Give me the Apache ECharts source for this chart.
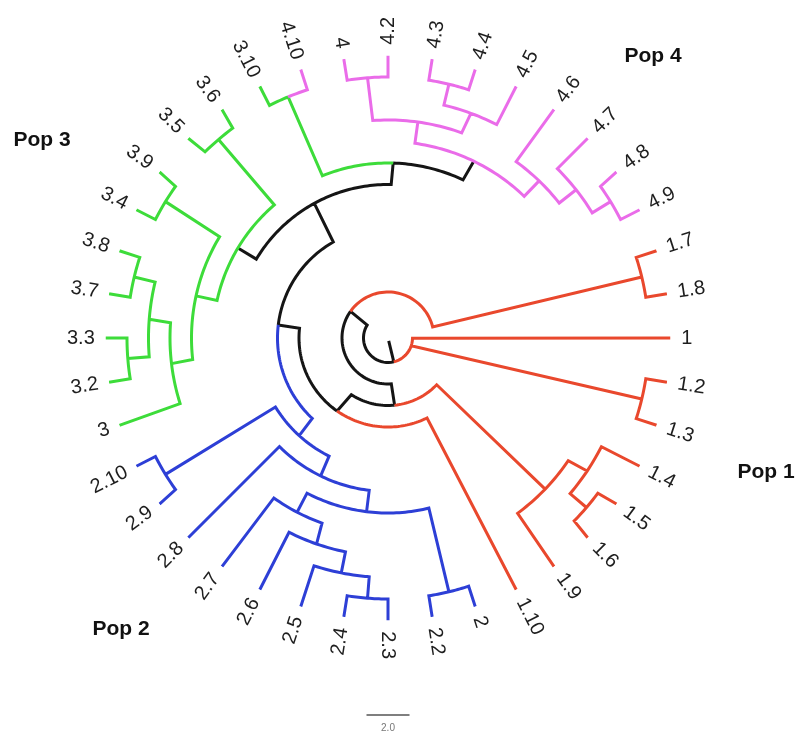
<!DOCTYPE html>
<html>
<head>
<meta charset="utf-8">
<script src="https://cdn.jsdelivr.net/npm/echarts/dist/echarts.min.js"></script>
<style>
  html, body { margin: 0; padding: 0; background: #ffffff; }
  #chart { width: 798px; height: 756px; }
</style>
</head>
<body>
<div id="chart"></div>
<script>
// Tips, listed clockwise starting at 3 o'clock
const leafNames = ['1', '1.2', '1.3', '1.4', '1.5', '1.6', '1.9', '1.10',
  '2', '2.2', '2.3', '2.4', '2.5', '2.6', '2.7', '2.8', '2.9', '2.10',
  '3', '3.2', '3.3', '3.7', '3.8', '3.4', '3.9', '3.5', '3.6', '3.10',
  '4.10', '4', '4.2', '4.3', '4.4', '4.5', '4.6', '4.7', '4.8', '4.9',
  '1.7', '1.8'];
const leafPop = [1, 1, 1, 1, 1, 1, 1, 1,
  2, 2, 2, 2, 2, 2, 2, 2, 2, 2,
  3, 3, 3, 3, 3, 3, 3, 3, 3, 3,
  4, 4, 4, 4, 4, 4, 4, 4, 4, 4,
  1, 1];
const leafDepth = [13, 13, 13, 13, 13, 13, 13, 13,
  13, 13, 13, 13, 13, 13, 13, 13, 13, 13,
  13, 13, 13, 13, 13, 13, 13, 13, 13, 13,
  13, 13, 13, 13, 13, 13, 13, 13, 13, 13,
  13, 13];

// Internal nodes: children in clockwise order, distance from the root,
// and the population colour of the branch leading to the node (0 = shared)
const nodeNames = ['root', 'n0', 'c12', 'x', 'c17', 'y', 'p', 'q', 'r', 'z', 'w',
  'bc', 'bb', 'ba', 'c2', 'b2', 'b3', 'b4', 'c23', 'c29',
  'v', 'g', 'g2', 'g3', 'g4', 'c32', 'c37', 'c34', 'c35',
  'u', 'c310', 'k', 'k2', 'c4', 'k3', 'c43', 'k6', 'k5', 'c48'];
const nodeChildren = [
  ['n0'], ['1', 'c12', 'x'], ['1.2', '1.3'], ['y', 'c17'], ['1.7', '1.8'],
  ['p', 'z'], ['q', '1.9'], ['1.4', 'r'], ['1.5', '1.6'], ['1.10', 'w'], ['bc', 'v'],
  ['bb', 'c29'], ['ba', '2.8'], ['c2', 'b2'], ['2', '2.2'], ['b3', '2.7'], ['b4', '2.6'],
  ['c23', '2.5'], ['2.3', '2.4'], ['2.9', '2.10'],
  ['g', 'u'], ['g2', 'c35'], ['g3', 'c34'], ['3', 'g4'], ['c32', 'c37'],
  ['3.2', '3.3'], ['3.7', '3.8'], ['3.4', '3.9'], ['3.5', '3.6'],
  ['c310', 'k'], ['3.10', '4.10'], ['k2', 'k6'], ['c4', 'k3'], ['4', '4.2'],
  ['c43', '4.5'], ['4.3', '4.4'], ['4.6', 'k5'], ['4.7', 'c48'], ['4.8', '4.9']];
const nodeDepth = [0, 1, 12, 2, 12, 3, 10, 11, 12, 4, 5,
  6, 7, 8, 12, 9, 10, 11, 12, 12,
  7, 8, 9, 10, 11, 12, 12, 12, 12,
  8, 12, 9, 10, 12, 11, 12, 10, 11, 12];
const nodeGroup = [0, 0, 1, 0, 1, 0, 1, 1, 1, 0, 0,
  2, 2, 2, 2, 2, 2, 2, 2, 2,
  0, 0, 3, 3, 3, 3, 3, 3, 3,
  0, 3, 0, 4, 4, 4, 4, 4, 4, 4];

const popColors = ['#151515', '#e9482d', '#2d3fd6', '#3ddc3a', '#ea6ce9'];
const popLabels = ['Pop 1', 'Pop 2', 'Pop 3', 'Pop 4'];
const scaleBarValue = 2.0;

// ---- layout: tips evenly spaced, nodes at the mean angle of their children
const angleStep = 360 / leafNames.length;
const info = {};
leafNames.forEach((n, i) => {
  info[n] = { depth: leafDepth[i], angle: i * angleStep, group: leafPop[i], children: [] };
});
nodeNames.forEach((n, i) => {
  info[n] = { depth: nodeDepth[i], group: nodeGroup[i], children: nodeChildren[i] };
});
const parentOf = {};
nodeNames.forEach((n, i) => nodeChildren[i].forEach(c => { parentOf[c] = n; }));
function angleOf(name) {
  const o = info[name];
  if (o.angle === undefined) {
    const a = o.children.map(angleOf);
    o.angle = a.reduce((s, v) => s + v, 0) / a.length;
  }
  return o.angle;
}
angleOf('root');

// ---- branch paths: arc along the parent's radius, then straight out to the node
const paths = popColors.map(() => []);
Object.keys(parentOf).forEach(name => {
  const par = info[parentOf[name]];
  const o = info[name];
  const pts = paths[o.group];
  const a0 = par.angle, a1 = o.angle;
  const steps = Math.max(1, Math.ceil(Math.abs(a1 - a0) / 0.5));
  for (let s = 0; s <= steps; s++) pts.push([par.depth, a0 + (a1 - a0) * s / steps]);
  pts.push([o.depth, a1]);
  pts.push(['-', '-']);
});

const center = [388, 338];
const radiusPx = 282.5;
const rMin = -0.14, rMax = 13;
const pxPerUnit = radiusPx / (rMax - rMin);
const labelGap = 0.5;

const chart = echarts.init(document.getElementById('chart'), null, { renderer: 'canvas' });

const branchSeries = paths.map((pts, g) => ({
  type: 'line',
  coordinateSystem: 'polar',
  data: pts,
  symbol: 'none',
  showSymbol: false,
  connectNulls: false,
  silent: true,
  animation: false,
  z: g === 0 ? 2 : 3,
  lineStyle: { color: popColors[g], width: 3, join: 'miter', cap: 'butt' }
}));

const labelSeries = {
  type: 'custom',
  coordinateSystem: 'polar',
  silent: true,
  animation: false,
  z: 5,
  data: leafNames.map((n, i) => [leafDepth[i] + labelGap, info[n].angle]),
  renderItem: (params, api) => {
    const a = api.value(1);
    const pt = api.coord([api.value(0), a]);
    const flip = a > 90 && a < 270;
    return {
      type: 'text',
      x: pt[0],
      y: pt[1],
      rotation: (flip ? 180 - a : -a) * Math.PI / 180,
      style: {
        text: leafNames[params.dataIndex],
        fill: '#1e1e1e',
        font: '20px "Liberation Sans", Arial, sans-serif',
        align: flip ? 'right' : 'left',
        verticalAlign: 'middle'
      }
    };
  }
};

const popPos = [[766, 472], [121, 629], [42, 140], [653, 56]];
const barW = scaleBarValue * pxPerUnit;

chart.setOption({
  backgroundColor: '#ffffff',
  animation: false,
  polar: { center: center, radius: radiusPx },
  angleAxis: { type: 'value', min: 0, max: 360, startAngle: 0, clockwise: true, show: false },
  radiusAxis: { type: 'value', min: rMin, max: rMax, show: false },
  series: branchSeries.concat([labelSeries]),
  graphic: popLabels.map((t, i) => ({
    type: 'text',
    x: popPos[i][0],
    y: popPos[i][1],
    silent: true,
    style: {
      text: t,
      fill: '#111111',
      font: 'bold 21px "Liberation Sans", Arial, sans-serif',
      align: 'center', verticalAlign: 'middle',
      textAlign: 'center', textVerticalAlign: 'middle'
    }
  })).concat([
    {
      type: 'line',
      silent: true,
      shape: { x1: center[0] - barW / 2, y1: 715, x2: center[0] + barW / 2, y2: 715 },
      style: { stroke: '#555555', lineWidth: 1.5 }
    },
    {
      type: 'text',
      x: center[0],
      y: 728,
      silent: true,
      style: {
        text: scaleBarValue.toFixed(1),
        fill: '#777777',
        font: '10px "Liberation Sans", Arial, sans-serif',
        align: 'center', verticalAlign: 'middle',
        textAlign: 'center', textVerticalAlign: 'middle'
      }
    }
  ])
});
</script>
</body>
</html>
